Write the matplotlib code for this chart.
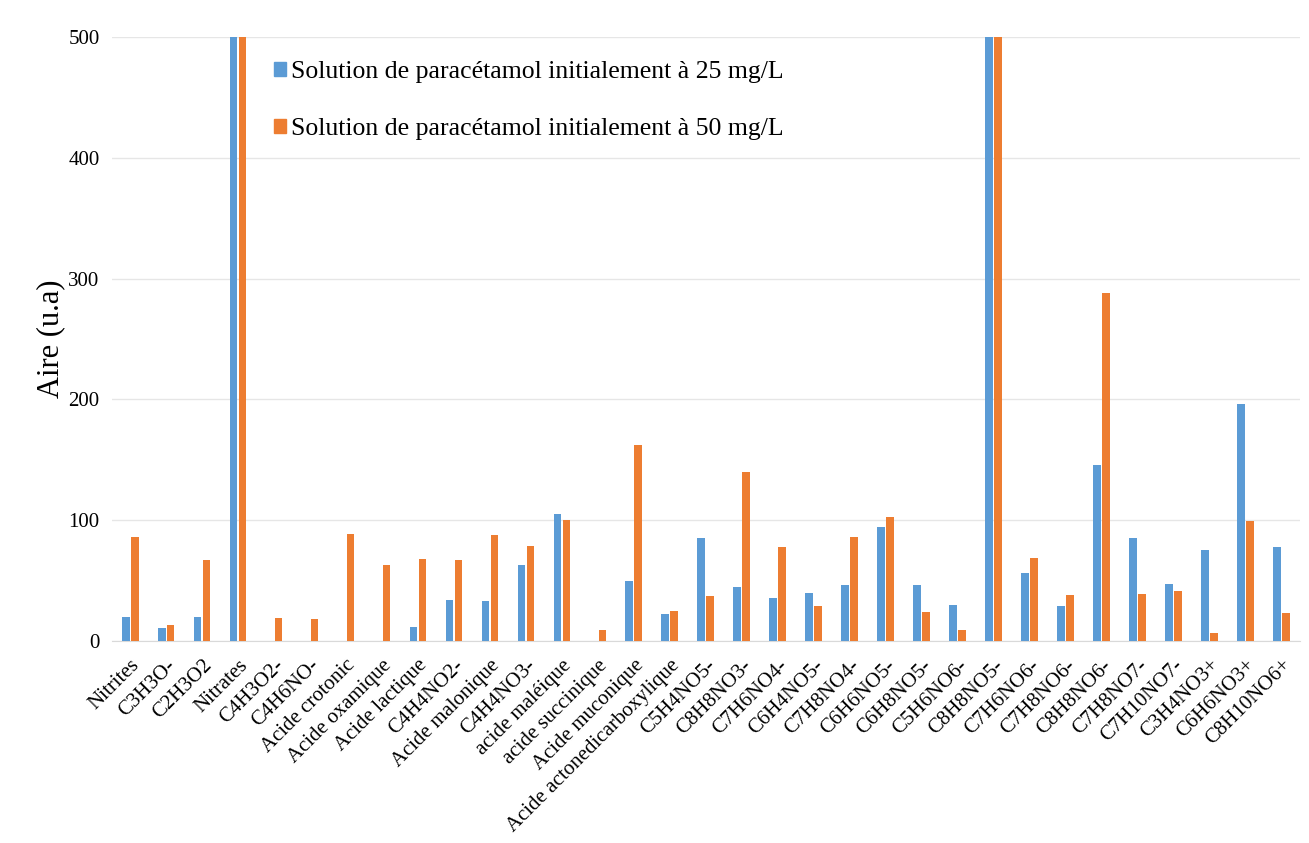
import matplotlib
matplotlib.use('Agg')
import matplotlib.pyplot as plt
import matplotlib.patches as mpatches
import matplotlib.transforms as mtransforms
import numpy as np

plt.rcParams['font.family'] = ['Liberation Serif', 'DejaVu Serif']

# Data (bars above 500 are clipped by the axis)
categories = ['Nitrites', 'C3H3O-', 'C2H3O2', 'Nitrates', 'C4H3O2-', 'C4H6NO-',
              'Acide crotonic', 'Acide oxamique', 'Acide lactique', 'C4H4NO2-',
              'Acide malonique', 'C4H4NO3-', 'acide maléique', 'acide succinique',
              'Acide muconique', 'Acide actonedicarboxylique', 'C5H4NO5-', 'C8H8NO3-',
              'C7H6NO4-', 'C6H4NO5-', 'C7H8NO4-', 'C6H6NO5-', 'C6H8NO5-', 'C5H6NO6-',
              'C8H8NO5-', 'C7H6NO6-', 'C7H8NO6-', 'C8H8NO6-', 'C7H8NO7-', 'C7H10NO7-',
              'C3H4NO3+', 'C6H6NO3+', 'C8H10NO6+']

sol_25 = [20, 11, 20, 600, 0, 0, 0, 0, 12, 34, 33, 63, 105, 0, 50, 22, 85, 45,
          36, 40, 46, 94, 46, 30, 600, 56, 29, 146, 85, 47, 75, 196, 78]
sol_50 = [86, 13, 67, 600, 19, 18, 89, 63, 68, 67, 88, 79, 100, 9, 162, 25, 37, 140,
          78, 29, 86, 103, 24, 9, 600, 69, 38, 288, 39, 41, 7, 99, 23]

series_labels = ['Solution de paracétamol initialement à 25 mg/L',
                 'Solution de paracétamol initialement à 50 mg/L']
yticks = [0, 100, 200, 300, 400, 500]

blue = '#5B9BD5'
orange = '#ED7D31'

fig = plt.figure(figsize=(13.09, 8.43), dpi=100)
ax = fig.add_axes([0.0856, 0.2396, 0.9074, 0.7165])

x = np.arange(len(categories))
w = 0.22
ax.bar(x - w / 2 - 0.015, sol_25, width=w, color=blue, zorder=3)
ax.bar(x + w / 2 + 0.015, sol_50, width=w, color=orange, zorder=3)

ax.set_ylim(0, 500)
ax.set_xlim(-0.5, len(categories) - 0.5)
ax.set_yticks(yticks)
ax.yaxis.grid(True, color='#e6e6e6', linewidth=1, zorder=0)
ax.set_axisbelow(True)

for s in ['top', 'right', 'left']:
    ax.spines[s].set_visible(False)
ax.spines['bottom'].set_color('#d9d9d9')

ax.tick_params(axis='both', length=0, labelsize=15)
ax.tick_params(axis='y', pad=9)
ax.set_xticks(x)
ax.set_xticklabels(categories, rotation=45, ha='right', rotation_mode='anchor')
shift = mtransforms.ScaledTranslation(0.0, -0.1, fig.dpi_scale_trans)
for lbl in ax.get_xticklabels():
    lbl.set_transform(lbl.get_transform() + shift)

ax.set_ylabel('Aire (u.a)', fontsize=22, labelpad=2)

handles = [mpatches.Patch(color=blue, label=series_labels[0]),
           mpatches.Patch(color=orange, label=series_labels[1])]
ax.legend(handles=handles, loc='upper left', bbox_to_anchor=(0.117, 0.998),
          frameon=False, fontsize=18.5, handlelength=0.45, handleheight=0.45,
          handletextpad=0.2, labelspacing=1.35)

plt.savefig('out.png', dpi=100, facecolor='white')
plt.close()
